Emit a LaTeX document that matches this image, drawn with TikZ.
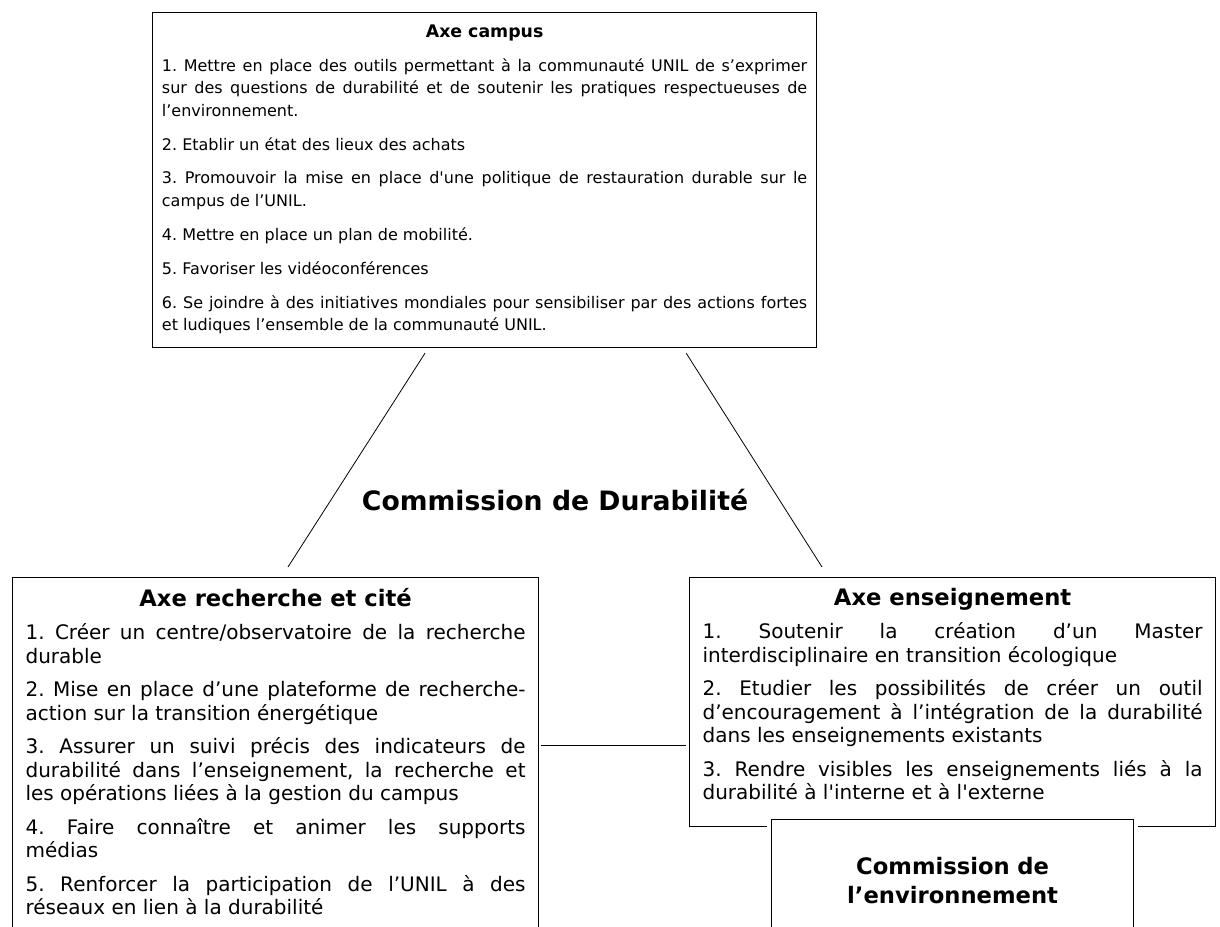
\documentclass[tikz,border=0pt]{standalone}
\usepackage{fontspec}
\setmainfont{DejaVu Sans}
\usetikzlibrary{positioning}

\newcommand{\boxtext}[3]{\begin{minipage}[t][#1][t]{#2}\frenchspacing#3\end{minipage}}
\newcommand{\axetitle}[1]{{\centering\bfseries #1\par}}
\newcommand{\campusfont}{\fontsize{12}{16.9}\selectfont\setlength{\parskip}{8.5pt}}
\newcommand{\axefont}{\fontsize{15}{17.6}\selectfont\setlength{\parskip}{7.5pt}}

\tikzset{
  axebox/.style={draw, line width=0.9pt, fill=white, anchor=north west, inner xsep=9.75pt, inner ysep=8pt},
  campusbox/.style={axebox, inner xsep=7pt, inner ysep=9pt},
  commbox/.style={axebox, align=center, text width=261pt, inner xsep=5.25pt, inner ysep=28.5pt,
    font=\bfseries\fontsize{17}{21.75}\selectfont, preaction={draw=white, line width=7pt}},
  link/.style={line width=0.6pt}
}

\begin{document}
\begin{tikzpicture}[x=0.75pt,y=-0.75pt]

\useasboundingbox (0,0) rectangle (1220,927);

\node[campusbox] (campus) at (152,12) {\boxtext{233.25pt}{484pt}{\campusfont
\axetitle{\fontsize{13}{15}\selectfont Axe campus}
1. Mettre en place des outils permettant à la communauté UNIL de s’exprimer\linebreak sur des questions de durabilité et de soutenir les pratiques respectueuses de\linebreak l’environnement.\par
2. Etablir un état des lieux des achats\par
3. Promouvoir la mise en place d\textquotesingle une politique de restauration durable sur le\linebreak campus de l’UNIL.\par
4. Mettre en place un plan de mobilité.\par
5. Favoriser les vidéoconférences\par
6. Se joindre à des initiatives mondiales pour sensibiliser par des actions fortes\linebreak et ludiques l’ensemble de la communauté UNIL.}};

\node[font=\bfseries\fontsize{20}{24}\selectfont] (durabilite) at (555,500) {Commission de Durabilité};

\node[axebox] (recherche) at (12,577) {\boxtext{269pt}{375pt}{\axefont
\axetitle{\fontsize{17}{18}\selectfont Axe recherche et cité}
1. Créer un centre/observatoire de la recherche\linebreak durable\par
2. Mise en place d’une plateforme de recherche-\linebreak action sur la transition énergétique\par
3. Assurer un suivi précis des indicateurs de\linebreak durabilité dans l’enseignement, la recherche et\linebreak les opérations liées à la gestion du campus\par
4. Faire connaître et animer les supports\linebreak médias\par
5. Renforcer la participation de l’UNIL à des\linebreak réseaux en lien à la durabilité}};

\node[axebox] (enseignement) at (689,577) {\boxtext{170.75pt}{375pt}{\axefont
\axetitle{\fontsize{17}{18}\selectfont Axe enseignement}
1. Soutenir la création d’un Master\linebreak interdisciplinaire en transition écologique\par
2. Etudier les possibilités de créer un outil\linebreak d’encouragement à l’intégration de la durabilité\linebreak dans les enseignements existants\par
3. Rendre visibles les enseignements liés à la\linebreak durabilité à l\textquotesingle interne et à l\textquotesingle externe}};

% ends of the links
\coordinate (campusL) at ([xshift=204.75pt,yshift=-3.75pt]campus.south west);
\coordinate (campusR) at ([xshift=-98.25pt,yshift=-3.75pt]campus.south east);
\coordinate (rechercheT) at ([xshift=207pt,yshift=7.5pt]recherche.north west);
\coordinate (rechercheR) at ([xshift=1.5pt,yshift=-126pt]recherche.north east);
\coordinate (enseignementT) at ([xshift=99.75pt,yshift=7.5pt]enseignement.north west);
\coordinate (enseignementL) at ([xshift=-2.25pt,yshift=-126pt]enseignement.north west);

\draw[link]
  % From campus to recherche
  (campusL) edge (rechercheT)
  % From campus to enseignement
  (campusR) edge (enseignementT)
  % From recherche to enseignement
  (rechercheR) edge (enseignementL)
;

\node[commbox] (environnement) at (771,819) {Commission de\\l’environnement};

\end{tikzpicture}
\end{document}
